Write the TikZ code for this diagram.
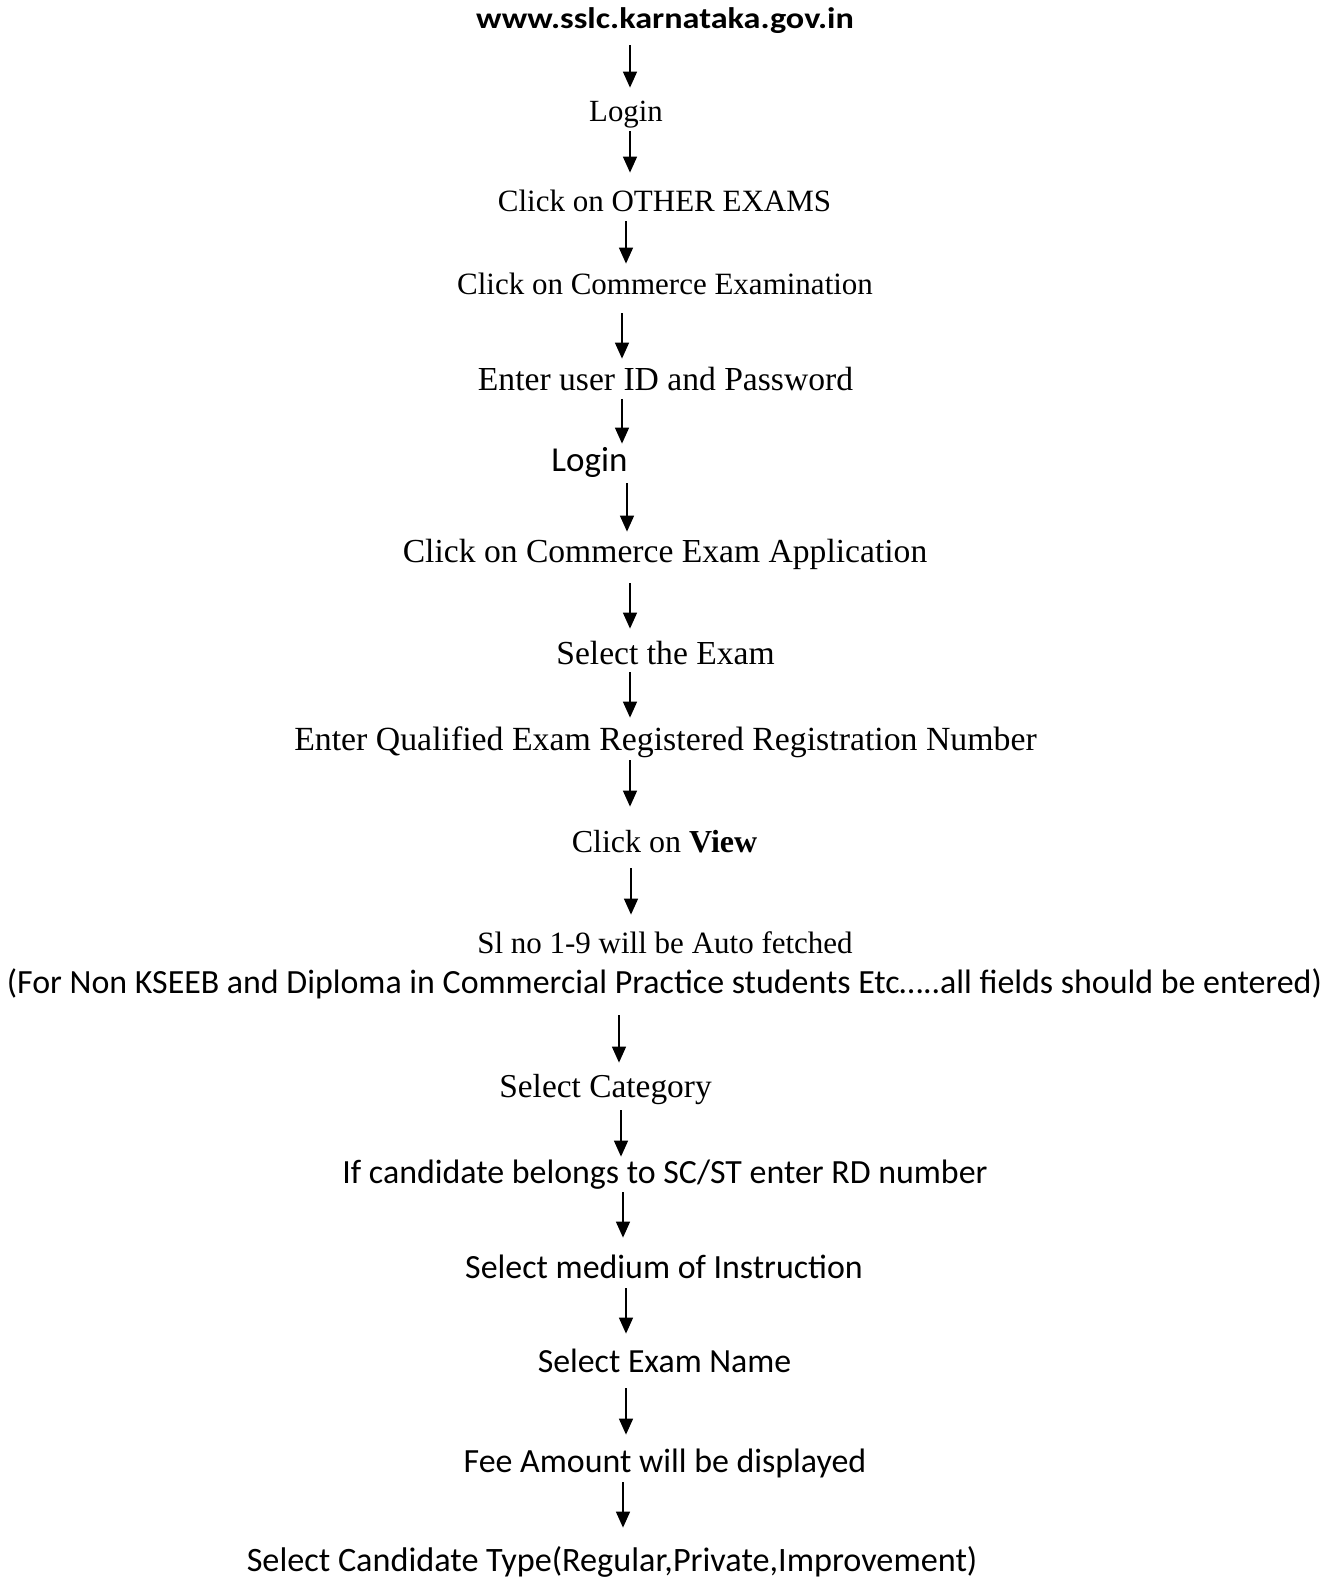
\documentclass[tikz,border=0pt]{standalone}
\usepackage{fontspec}
\setmainfont{Liberation Serif}
\newfontfamily\calibri{Carlito}
\usetikzlibrary{arrows.meta}

\tikzset{
  serifline/.style={inner sep=0pt, anchor=base, text height=11pt, text depth=3.7pt, font=\fontsize{#1}{#1}\selectfont},
  sansline/.style={inner sep=0pt, anchor=base, text height=11pt, text depth=3.7pt, font=\calibri\fontsize{#1}{#1}\selectfont},
  flow/.style={line width=0.75pt, -{Triangle[width=7pt,length=8pt]}}
}

\begin{document}
\begin{tikzpicture}[x=0.5pt,y=0.5pt,yscale=-1,xscale=1]
    \useasboundingbox (0,0) rectangle (1339,1577);

    % Text Node
    \node [sansline=17.1] (www) at (665,29) {\scalebox{1}[0.87]{\bfseries www.sslc.karnataka.gov.in}};
    % Text Node
    \node [serifline=15.4] (login) at (626,122) {Login};
    % Text Node
    \node [serifline=15.5] (otherexams) at (664.5,212) {Click on OTHER EXAMS};
    % Text Node
    \node [serifline=15.5] (commexam) at (665,295) {Click on Commerce Examination};
    % Text Node
    \node [serifline=16.8] (userid) at (665.5,391) {Enter user ID and Password};
    % Text Node
    \node [sansline=17.5] (loginb) at (589.5,472) {Login};
    % Text Node
    \node [serifline=16.8] (commapp) at (665,562) {Click on Commerce Exam Application};
    % Text Node
    \node [serifline=16.8] (selexam) at (665.5,664) {Select the Exam};
    % Text Node
    \node [serifline=16.9] (regno) at (665.5,750) {Enter Qualified Exam Registered Registration Number};
    % Text Node
    \node [serifline=16] (view) at (664.5,852) {Click on \textbf{View}};
    % Text Node
    \node [serifline=15.5] (autofetch) at (665,953) {Sl no 1-9 will be Auto fetched};
    % Text Node
    \node [sansline=16.95] (nonkseeb) at (664.5,993) {(For Non KSEEB and Diploma in Commercial Practice students Etc…..all fields should be entered)};
    % Text Node
    \node [serifline=16.7] (category) at (605.5,1097) {Select Category};
    % Text Node
    \node [sansline=16.95] (scst) at (665,1183) {If candidate belongs to SC/ST enter RD number};
    % Text Node
    \node [sansline=16.95] (medium) at (664,1278) {Select medium of Instruction};
    % Text Node
    \node [sansline=16.9] (examname) at (664.5,1372) {Select Exam Name};
    % Text Node
    \node [sansline=16.95] (fee) at (665,1472) {Fee Amount will be displayed};
    % Text Node
    \node [sansline=17.1] (candtype) at (612,1571) {Select Candidate Type(Regular,Private,Improvement)};

    %Straight Lines
    \draw [flow, shorten <=4.3pt, shorten >=6pt] (www.south -| 630,0) -- (login.north -| 630,0);
    \draw [flow, shorten <=0.8pt, shorten >=8.5pt] (login.south -| 630,0) -- (otherexams.north -| 630,0);
    \draw [flow, shorten <=0.8pt, shorten >=4.5pt] (otherexams.south -| 626,0) -- (commexam.north -| 626,0);
    \draw [flow, shorten <=5.3pt, shorten >=5pt] (commexam.south -| 622,0) -- (userid.north -| 622,0);
    \draw [flow, shorten <=0pt, shorten >=3pt] (userid.south -| 622,0) -- (loginb.north -| 622,0);
    \draw [flow, shorten <=1.8pt, shorten >=4pt] (loginb.south -| 627,0) -- (commapp.north -| 627,0);
    \draw [flow, shorten <=6.8pt, shorten >=6.5pt] (commapp.south -| 630,0) -- (selexam.north -| 630,0);
    \draw [flow, shorten <=0.3pt, shorten >=5pt] (selexam.south -| 630,0) -- (regno.north -| 630,0);
    \draw [flow, shorten <=1.3pt, shorten >=11.5pt] (regno.south -| 630,0) -- (view.north -| 630,0);
    \draw [flow, shorten <=4.3pt, shorten >=8pt] (view.south -| 631,0) -- (autofetch.north -| 631,0);
    \draw [flow, shorten <=7.3pt, shorten >=6pt] (nonkseeb.south -| 619,0) -- (category.north -| 619,0);
    \draw [flow, shorten <=2.8pt, shorten >=2pt] (category.south -| 621,0) -- (scst.north -| 621,0);
    \draw [flow, shorten <=0.8pt, shorten >=9pt] (scst.south -| 623,0) -- (medium.north -| 623,0);
    \draw [flow, shorten <=1.3pt, shorten >=8pt] (medium.south -| 626,0) -- (examname.north -| 626,0);
    \draw [flow, shorten <=4.3pt, shorten >=7.5pt] (examname.south -| 626,0) -- (fee.north -| 626,0);
    \draw [flow, shorten <=1.3pt, shorten >=10.5pt] (fee.south -| 623,0) -- (candtype.north -| 623,0);

\end{tikzpicture}
\end{document}
